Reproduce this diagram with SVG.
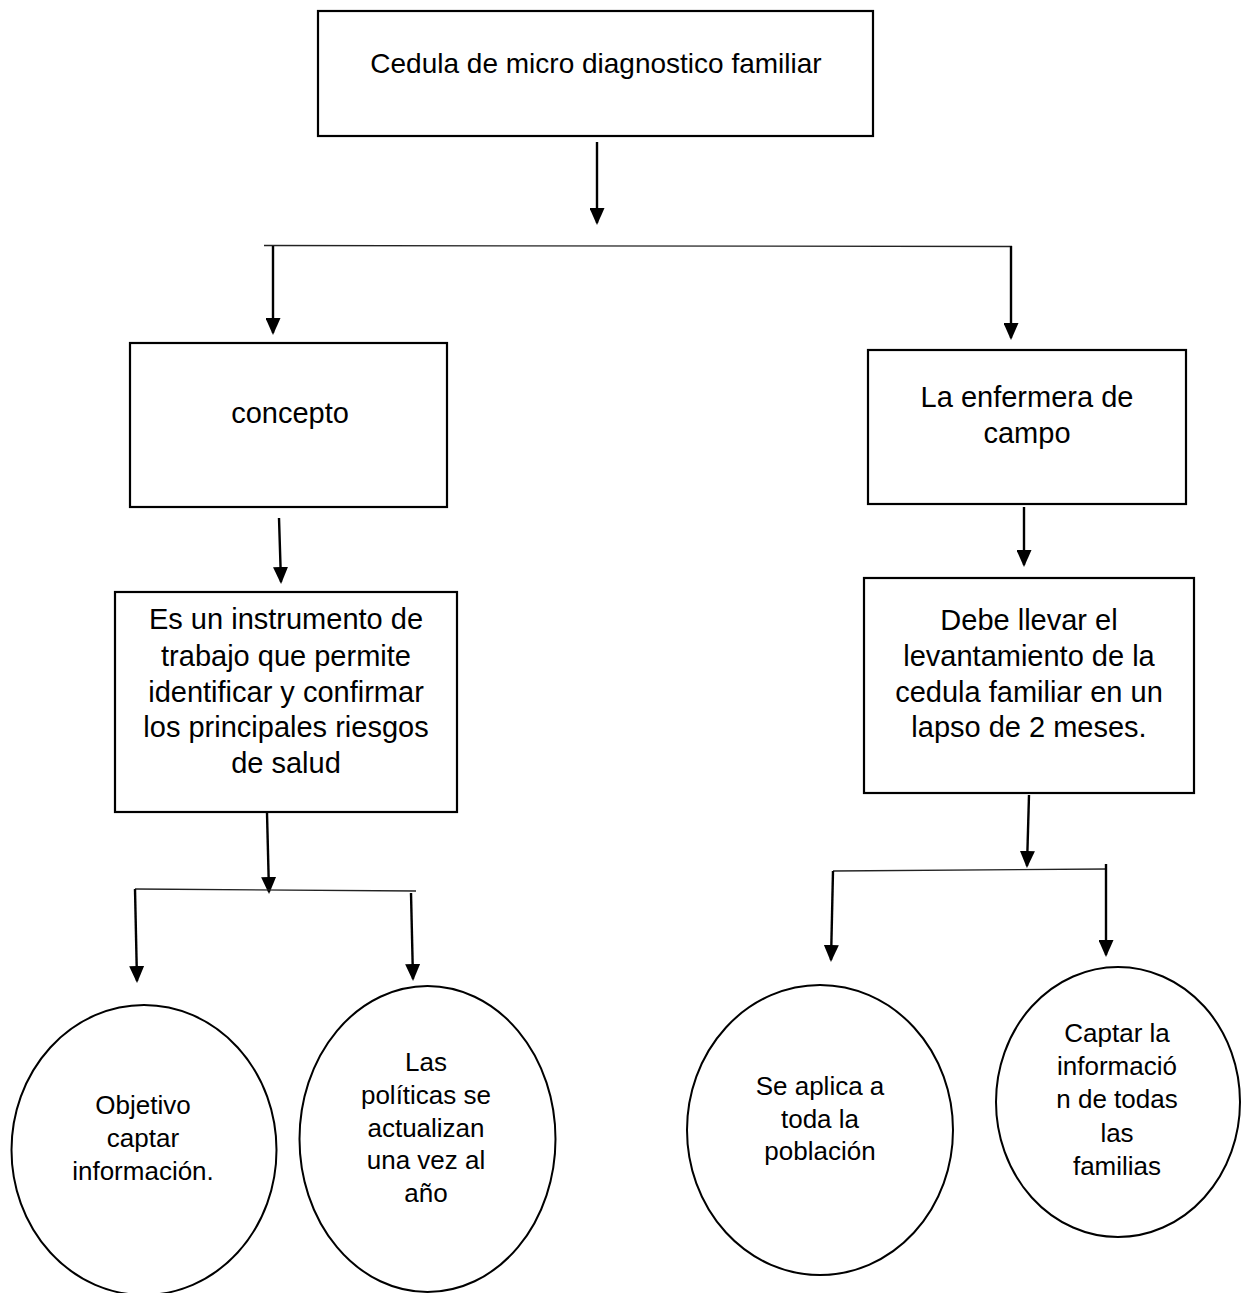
<svg xmlns="http://www.w3.org/2000/svg" width="1241" height="1293" viewBox="0 0 1241 1293">
<style>
.box{fill:#fff;stroke:#000;stroke-width:2.2}
.ell{fill:#fff;stroke:#000;stroke-width:2}
.t{font-family:"Liberation Sans",Arial,sans-serif;font-size:29px;fill:#000;text-anchor:middle}
.tt{font-family:"Liberation Sans",Arial,sans-serif;font-size:28px;fill:#000;text-anchor:middle}
.te{font-family:"Liberation Sans",Arial,sans-serif;font-size:26px;fill:#000;text-anchor:middle}
.arr{stroke:#000;stroke-width:2.4;fill:none;marker-end:url(#ah)}
.hl{stroke:#222;stroke-width:1.4;fill:none}
</style>
<defs>
<marker id="ah" markerUnits="userSpaceOnUse" viewBox="0 0 17 15" refX="15" refY="7.5" markerWidth="17" markerHeight="15" orient="auto">
<path d="M0,0 L17,7.5 L0,15 z" fill="#000"/>
</marker>
</defs>
<rect width="1241" height="1293" fill="#fff"/>
<g id="connectors">
<line class="arr" x1="597" y1="142" x2="597" y2="223"/>
<line class="hl" x1="264" y1="245.5" x2="1012" y2="246.5"/>
<line class="arr" x1="273" y1="246" x2="273" y2="333"/>
<line class="arr" x1="1011" y1="246" x2="1011" y2="338"/>
<line class="arr" x1="279" y1="518" x2="281" y2="582"/>
<line class="arr" x1="1024" y1="507" x2="1024" y2="565"/>
<line class="arr" x1="267" y1="813" x2="269" y2="892"/>
<line class="hl" x1="135" y1="889" x2="416" y2="891"/>
<line class="arr" x1="135" y1="889" x2="137" y2="981"/>
<line class="arr" x1="411" y1="893" x2="413" y2="979"/>
<line class="arr" x1="1029" y1="795" x2="1027" y2="866"/>
<line class="hl" x1="833" y1="871" x2="1107" y2="869"/>
<line class="arr" x1="833" y1="871" x2="831" y2="960"/>
<line class="arr" x1="1106" y1="864" x2="1106" y2="955"/>
</g>
<g id="n-top">
<rect class="box" x="318" y="11" width="555" height="125"/>
<text class="tt" x="596" y="73">Cedula de micro diagnostico familiar</text>
</g>
<g id="n-concepto">
<rect class="box" x="130" y="343" width="317" height="164"/>
<text class="t" x="290" y="423">concepto</text>
</g>
<g id="n-enfermera">
<rect class="box" x="868" y="350" width="318" height="154"/>
<text class="t" x="1027" y="407">La enfermera de</text>
<text class="t" x="1027" y="443">campo</text>
</g>
<g id="n-instrumento">
<rect class="box" x="115" y="592" width="342" height="220"/>
<text class="t" x="286" y="629">Es un instrumento de</text>
<text class="t" x="286" y="666">trabajo que permite</text>
<text class="t" x="286" y="702">identificar y confirmar</text>
<text class="t" x="286" y="737">los principales riesgos</text>
<text class="t" x="286" y="773">de salud</text>
</g>
<g id="n-debe">
<rect class="box" x="864" y="578" width="330" height="215"/>
<text class="t" x="1029" y="630">Debe llevar el</text>
<text class="t" x="1029" y="666">levantamiento de la</text>
<text class="t" x="1029" y="702">cedula familiar en un</text>
<text class="t" x="1029" y="737">lapso de 2 meses.</text>
</g>
<g id="n-objetivo">
<ellipse class="ell" cx="144" cy="1150" rx="132.5" ry="145"/>
<text class="te" x="143" y="1114">Objetivo</text>
<text class="te" x="143" y="1147">captar</text>
<text class="te" x="143" y="1180">información.</text>
</g>
<g id="n-politicas">
<ellipse class="ell" cx="427.5" cy="1139" rx="128" ry="153"/>
<text class="te" x="426" y="1071">Las</text>
<text class="te" x="426" y="1104">políticas se</text>
<text class="te" x="426" y="1137">actualizan</text>
<text class="te" x="426" y="1169">una vez al</text>
<text class="te" x="426" y="1202">año</text>
</g>
<g id="n-poblacion">
<ellipse class="ell" cx="820" cy="1130" rx="133" ry="145"/>
<text class="te" x="820" y="1095">Se aplica a</text>
<text class="te" x="820" y="1128">toda la</text>
<text class="te" x="820" y="1160">población</text>
</g>
<g id="n-familias">
<ellipse class="ell" cx="1118" cy="1102" rx="122" ry="135"/>
<text class="te" x="1117" y="1042">Captar la</text>
<text class="te" x="1117" y="1075">informació</text>
<text class="te" x="1117" y="1108">n de todas</text>
<text class="te" x="1117" y="1142">las</text>
<text class="te" x="1117" y="1175">familias</text>
</g>
</svg>
